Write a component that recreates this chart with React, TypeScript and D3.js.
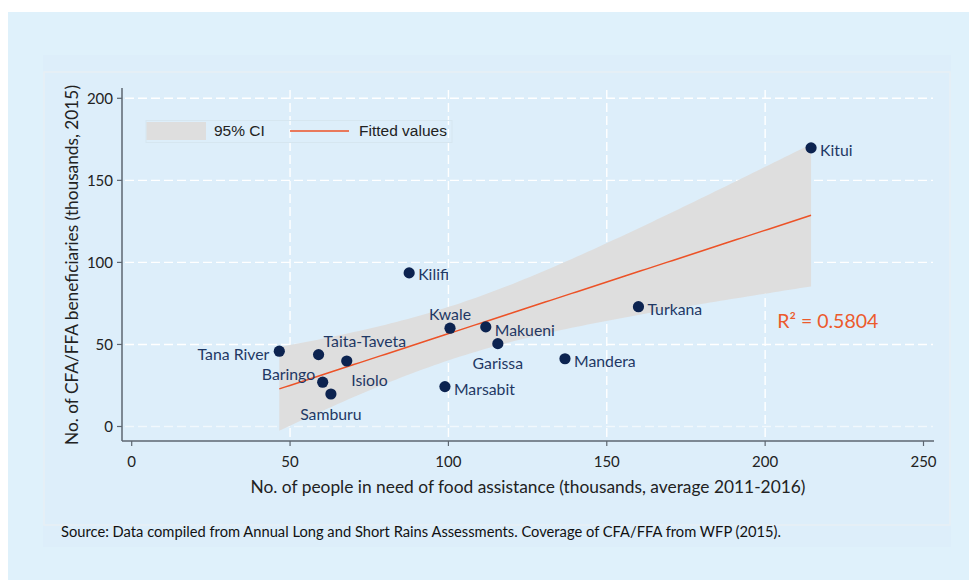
import React, { useRef, useEffect } from 'react';
import * as d3 from 'd3';

const COUNTIES = ['Tana River', 'Taita-Taveta', 'Baringo', 'Samburu', 'Isiolo', 'Kilifi', 'Marsabit', 'Kwale', 'Makueni', 'Garissa', 'Mandera', 'Turkana', 'Kitui'];
const PEOPLE_IN_NEED = [46.6, 59.0, 60.3, 62.9, 67.9, 87.6, 98.9, 100.5, 111.8, 115.6, 136.8, 160.0, 214.5];
const BENEFICIARIES = [45.9, 43.8, 27.0, 19.8, 39.9, 93.6, 24.3, 59.9, 60.7, 50.5, 41.3, 73.0, 169.8];
const X_TICKS = [0, 50, 100, 150, 200, 250];
const Y_TICKS = [0, 50, 100, 150, 200];
const T_CRIT = 2.201; // t(0.975, df = 11)

// label placement (dx, dy, anchor) like Stata's mlabvposition
const LABEL_POS: Record<string, [number, number, string]> = {
  'Kitui': [9, 3, 'start'], 'Kilifi': [9, 2, 'start'], 'Turkana': [9, 3, 'start'], 'Mandera': [9, 3, 'start'],
  'Marsabit': [9, 3, 'start'], 'Makueni': [9, 3.5, 'start'], 'Garissa': [0, 20, 'middle'], 'Kwale': [0, -14, 'middle'],
  'Tana River': [-10, 3.5, 'end'], 'Taita-Taveta': [5, -13, 'start'], 'Isiolo': [4.5, 19, 'start'],
  'Baringo': [-7.5, -8, 'end'], 'Samburu': [0, 20, 'middle'],
};

const SANS = 'Lato, "Open Sans", sans-serif';

export default function App() {
  const svgRef = useRef<SVGSVGElement>(null);

  useEffect(() => {
    if (!svgRef.current) return;
    const svg = d3.select(svgRef.current);
    svg.selectAll('*').remove();

    // background panels
    svg.append('rect').attr('x', 8).attr('y', 12).attr('width', 961).attr('height', 568).attr('fill', '#dff1fb');
    svg.append('rect').attr('x', 43).attr('y', 55).attr('width', 908).attr('height', 492).attr('fill', '#ddeefa');
    svg.append('rect').attr('x', 44).attr('y', 72).attr('width', 906).attr('height', 453).attr('fill', 'none').attr('stroke', '#e7eff5').attr('stroke-width', 1.5);

    const x = d3.scaleLinear().domain([0, 250]).range([131.7, 923.5]);
    const y = d3.scaleLinear().domain([0, 200]).range([426.5, 98.3]);
    const axisX0 = 122, axisX1 = 934, axisY0 = 88, axisY1 = 441;

    // grid
    Y_TICKS.forEach((t) => {
      svg.append('line').attr('x1', axisX0 + 3).attr('x2', axisX1 - 1).attr('y1', y(t)).attr('y2', y(t))
        .attr('stroke', '#ffffff').attr('stroke-width', 1.4).attr('stroke-dasharray', '9,4').attr('opacity', t === 0 ? 0.6 : 1);
    });
    X_TICKS.filter((t) => t > 0 && t < 250).forEach((t) => {
      svg.append('line').attr('x1', x(t)).attr('x2', x(t)).attr('y1', axisY0 + 2).attr('y2', axisY1)
        .attr('stroke', '#ffffff').attr('stroke-width', 1.4).attr('stroke-dasharray', '9,4');
    });

    // regression fit + 95% CI
    const n = PEOPLE_IN_NEED.length;
    const mx = d3.mean(PEOPLE_IN_NEED) as number;
    const my = d3.mean(BENEFICIARIES) as number;
    const sxx = d3.sum(PEOPLE_IN_NEED, (v) => (v - mx) ** 2);
    const sxy = d3.sum(PEOPLE_IN_NEED, (v, i) => (v - mx) * (BENEFICIARIES[i] - my));
    const slope = sxy / sxx;
    const icpt = my - slope * mx;
    const sse = d3.sum(PEOPLE_IN_NEED, (v, i) => (BENEFICIARIES[i] - (icpt + slope * v)) ** 2);
    const s = Math.sqrt(sse / (n - 2));
    const [xmin, xmax] = d3.extent(PEOPLE_IN_NEED) as [number, number];
    const grid = d3.range(101).map((i) => xmin + ((xmax - xmin) * i) / 100);
    const fit = grid.map((gx) => {
      const yh = icpt + slope * gx;
      const hw = T_CRIT * s * Math.sqrt(1 / n + (gx - mx) ** 2 / sxx);
      return { gx, yh, lo: yh - hw, hi: yh + hw };
    });
    svg.append('path').datum(fit)
      .attr('d', d3.area<any>().x((d) => x(d.gx)).y0((d) => y(d.lo)).y1((d) => y(d.hi)))
      .attr('fill', '#dedede');
    svg.append('path').datum(fit)
      .attr('d', d3.line<any>().x((d) => x(d.gx)).y((d) => y(d.yh)))
      .attr('fill', 'none').attr('stroke', '#ec5227').attr('stroke-width', 1.5);

    // axes
    svg.append('line').attr('x1', axisX0).attr('x2', axisX0).attr('y1', axisY0).attr('y2', axisY1).attr('stroke', '#5d6670').attr('stroke-width', 1.5);
    svg.append('line').attr('x1', axisX0).attr('x2', axisX1).attr('y1', axisY1).attr('y2', axisY1).attr('stroke', '#5d6670').attr('stroke-width', 1.5);
    Y_TICKS.forEach((t) => {
      svg.append('line').attr('x1', axisX0 - 5).attr('x2', axisX0).attr('y1', y(t)).attr('y2', y(t)).attr('stroke', '#5d6670').attr('stroke-width', 1.2);
      svg.append('text').attr('x', axisX0 - 9).attr('y', y(t)).attr('dy', '0.35em').attr('text-anchor', 'end')
        .attr('font-family', SANS).attr('font-size', 15).attr('fill', '#222').text(t);
    });
    X_TICKS.forEach((t) => {
      svg.append('line').attr('x1', x(t)).attr('x2', x(t)).attr('y1', axisY1).attr('y2', axisY1 + 5).attr('stroke', '#5d6670').attr('stroke-width', 1.2);
      svg.append('text').attr('x', x(t)).attr('y', 462).attr('dy', '0.35em').attr('text-anchor', 'middle')
        .attr('font-family', SANS).attr('font-size', 15).attr('fill', '#222').text(t);
    });
    svg.append('text').attr('x', 528).attr('y', 487).attr('dy', '0.35em').attr('text-anchor', 'middle')
      .attr('font-family', SANS).attr('font-size', 17).attr('fill', '#222')
      .attr('textLength', 555).attr('lengthAdjust', 'spacingAndGlyphs')
      .text('No. of people in need of food assistance (thousands, average 2011-2016)');
    svg.append('text').attr('transform', 'translate(72,265) rotate(-90)').attr('dy', '0.35em').attr('text-anchor', 'middle')
      .attr('font-family', SANS).attr('font-size', 17).attr('fill', '#222')
      .attr('textLength', 360).attr('lengthAdjust', 'spacingAndGlyphs')
      .text('No. of CFA/FFA beneficiaries (thousands, 2015)');

    // points + labels
    COUNTIES.forEach((name, i) => {
      const px = x(PEOPLE_IN_NEED[i]);
      const py = y(BENEFICIARIES[i]);
      svg.append('circle').attr('cx', px).attr('cy', py).attr('r', 5.6).attr('fill', '#0c2350');
      const [dx, dy, anchor] = LABEL_POS[name];
      svg.append('text').attr('x', px + dx).attr('y', py + dy).attr('dy', '0.35em').attr('text-anchor', anchor)
        .attr('font-family', SANS).attr('font-size', 15.8).attr('fill', '#1f3864').text(name);
    });

    // legend
    const lg = svg.append('g');
    lg.append('rect').attr('x', 146).attr('y', 120.5).attr('width', 306).attr('height', 22).attr('fill', 'none').attr('stroke', '#d6e6f0').attr('stroke-width', 1);
    lg.append('rect').attr('x', 146.5).attr('y', 122).attr('width', 59.5).attr('height', 18).attr('fill', '#dedede');
    lg.append('text').attr('x', 214).attr('y', 131).attr('dy', '0.35em').attr('font-family', '"Liberation Sans", Arial, sans-serif')
      .attr('font-size', 15.5).attr('fill', '#222').text('95% CI');
    lg.append('line').attr('x1', 290).attr('x2', 349).attr('y1', 131).attr('y2', 131).attr('stroke', '#ec5227').attr('stroke-width', 1.5);
    lg.append('text').attr('x', 359).attr('y', 131).attr('dy', '0.35em').attr('font-family', '"Liberation Sans", Arial, sans-serif')
      .attr('font-size', 15.5).attr('fill', '#222').text('Fitted values');

    // R² annotation
    svg.append('text').attr('x', x(203.8)).attr('y', y(64.3)).attr('dy', '0.35em')
      .attr('font-family', SANS).attr('font-size', 19.5).attr('fill', '#ec5a2c').text('R² = 0.5804');

    // source note
    svg.append('text').attr('x', 61).attr('y', 532).attr('dy', '0.35em')
      .attr('font-family', SANS).attr('font-size', 14.5).attr('fill', '#111')
      .attr('textLength', 720).attr('lengthAdjust', 'spacingAndGlyphs')
      .text('Source: Data compiled from Annual Long and Short Rains Assessments. Coverage of CFA/FFA from WFP (2015).');
  }, []);

  return (
    <div style={{ position: 'absolute', left: 0, top: 0, width: 969, height: 580, background: '#ffffff' }}>
      <svg ref={svgRef} width={969} height={580} style={{ display: 'block' }} />
    </div>
  );
}
